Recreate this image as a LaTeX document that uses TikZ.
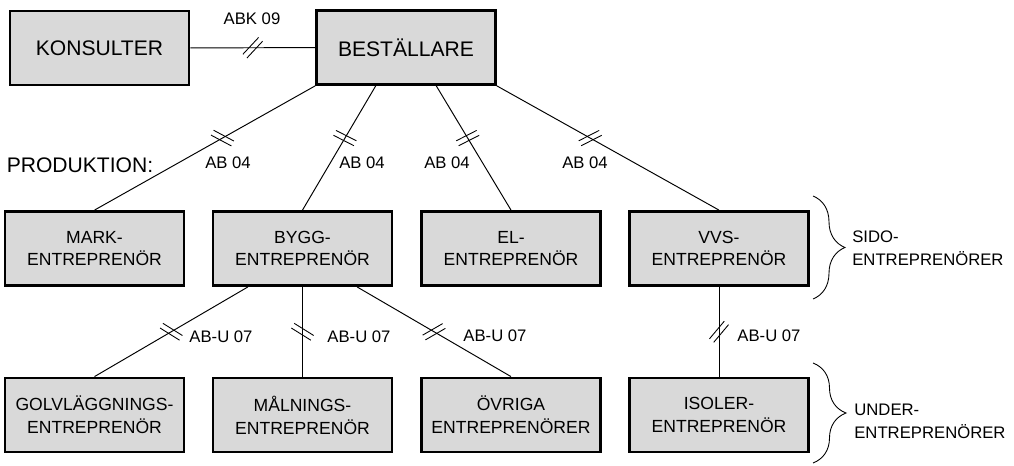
\documentclass[tikz,border=0pt]{standalone}
\usepackage{fontspec}
\setmainfont{Liberation Sans}
\usetikzlibrary{calc,decorations.pathreplacing}
\definecolor{boxgray}{RGB}{217,217,217}
\tikzset{
	party/.style={shape=rectangle, draw=black, fill=boxgray, line width=1.6pt,
		minimum width=3.58cm, minimum height=1.48cm, align=center,
		font=\fontsize{10}{13}\selectfont},
	bigparty/.style={party, font=\fontsize{12}{14}\selectfont},
	contract/.style={inner sep=0pt, font=\fontsize{9.5}{13}\selectfont},
	conn/.style={draw=black, line width=0.55pt},
	pics/slashes/.style={code={
		\draw[line width=0.5pt] (-0.23,0.055) -- (0.23,0.055);
		\draw[line width=0.5pt] (-0.23,-0.055) -- (0.23,-0.055);
	}},
}
\begin{document}
\begin{tikzpicture}
	\useasboundingbox (0,0) rectangle (20.28,-9.32);
	\node[bigparty] (kons) at (1.99,-0.96)  {KONSULTER};
	\node[bigparty] (best) at (8.12,-0.95)  {BESTÄLLARE};
	\node[party]    (mark) at (1.89,-4.97)  {MARK-\\ENTREPRENÖR};
	\node[party]    (bygg) at (6.05,-4.97)  {BYGG-\\ENTREPRENÖR};
	\node[party]    (el)   at (10.22,-4.97) {EL-\\ENTREPRENÖR};
	\node[party]    (vvs)  at (14.38,-4.97) {VVS-\\ENTREPRENÖR};
	\node[party]    (golv) at (1.89,-8.30)  {GOLVLÄGGNINGS-\\ENTREPRENÖR};
	\node[party]    (maln) at (6.05,-8.30)  {MÅLNINGS-\\ENTREPRENÖR};
	\node[party]    (ovr)  at (10.22,-8.30) {ÖVRIGA\\ENTREPRENÖRER};
	\node[party]    (isol) at (14.38,-8.30) {ISOLER-\\ENTREPRENÖR};

	\draw[conn] (kons) -- (best) pic[pos=0.5, rotate=47] {slashes};
	\draw[conn] (best.south west) -- (mark.north) pic[pos=0.42, rotate=-28] {slashes};
	\draw[conn] ($(best.south west)!1/3!(best.south east)$) -- (bygg.north) pic[pos=0.42, rotate=-27] {slashes};
	\draw[conn] ($(best.south west)!2/3!(best.south east)$) -- (el.north) pic[pos=0.42, rotate=27] {slashes};
	\draw[conn] (best.south east) -- (vvs.north) pic[pos=0.42, rotate=27] {slashes};
	\draw[conn] ($(bygg.south west)!0.2!(bygg.south east)$) -- (golv.north) pic[pos=0.5, rotate=-32] {slashes};
	\draw[conn] (bygg.south) -- (maln.north) pic[pos=0.5, rotate=-32] {slashes};
	\draw[conn] ($(bygg.south west)!0.8!(bygg.south east)$) -- (ovr.north) pic[pos=0.5, rotate=30] {slashes};
	\draw[conn] (vvs) -- (isol) pic[pos=0.5, rotate=50] {slashes};

	\node[contract] (abk)  at (5.04,-0.37)  {ABK 09};
	\node[contract] (ab1)  at (4.56,-3.26)  {AB 04};
	\node[contract] (ab2)  at (7.24,-3.26)  {AB 04};
	\node[contract] (ab3)  at (8.94,-3.26)  {AB 04};
	\node[contract] (ab4)  at (11.70,-3.26) {AB 04};
	\node[contract] (abu1) at (4.42,-6.74)  {AB-U 07};
	\node[contract] (abu2) at (7.18,-6.74)  {AB-U 07};
	\node[contract] (abu3) at (9.90,-6.72)  {AB-U 07};
	\node[contract] (abu4) at (15.38,-6.72) {AB-U 07};
	\node[inner sep=0pt, font=\fontsize{12}{14}\selectfont] (prod) at (1.60,-3.31) {PRODUKTION:};

	\coordinate (sidotop) at (16.26,-3.92);
	\coordinate (sidobot) at (16.26,-5.98);
	\coordinate (undtop)  at (16.26,-7.26);
	\coordinate (undbot)  at (16.26,-9.26);
	\draw[decorate, decoration={brace, amplitude=0.64cm}, line width=0.5pt] (sidotop) -- (sidobot);
	\draw[decorate, decoration={brace, amplitude=0.66cm}, line width=0.5pt] (undtop) -- (undbot);
	\node[contract, align=left, anchor=west] (sido)  at (17.04,-4.97) {SIDO-\\ENTREPRENÖRER};
	\node[contract, align=left, anchor=west] (under) at (17.08,-8.42) {UNDER-\\ENTREPRENÖRER};
\end{tikzpicture}
\end{document}
